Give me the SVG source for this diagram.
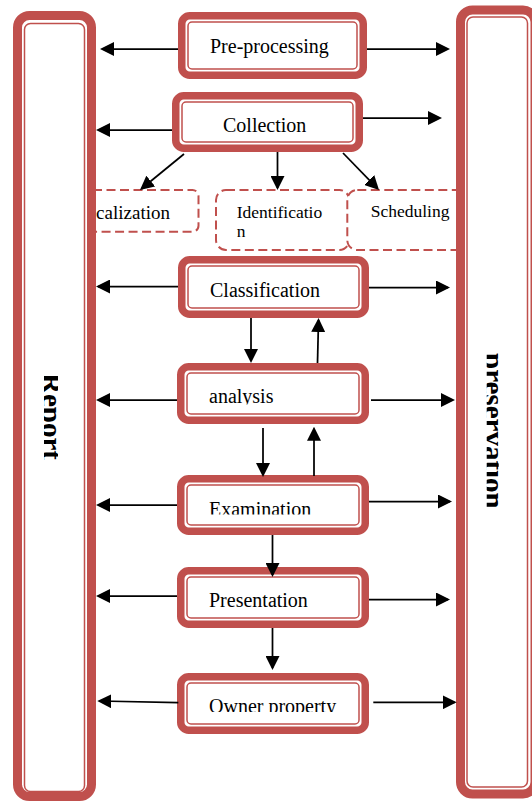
<svg xmlns="http://www.w3.org/2000/svg" width="532" height="802" viewBox="0 0 532 802">
<style>
.thick{fill:#fff;stroke:#C0504D;stroke-width:7.5}
.thin{fill:none;stroke:#C0504D;stroke-width:1.5}
.sthick{fill:#fff;stroke:#C0504D;stroke-width:9}
.dash{fill:#fff;stroke:#C0504D;stroke-width:2;stroke-dasharray:9 4.5}
.lbl{font-family:"Liberation Serif","Times New Roman",serif;font-size:20px;fill:#000}
.sm{font-family:"Liberation Serif","Times New Roman",serif;font-size:17.5px;fill:#000}
.side{font-family:"Liberation Serif","Times New Roman",serif;font-size:29px;font-weight:bold;fill:#000}
.con{stroke:#000;stroke-width:1.75;fill:none;marker-end:url(#ah)}
</style>
<defs>
<marker id="ah" markerUnits="userSpaceOnUse" markerWidth="14" markerHeight="14" refX="12" refY="7" orient="auto">
<path d="M0,0 L14,7 L0,14 z" fill="#000"/>
</marker>
<clipPath id="cpReport"><rect x="44" y="360" width="14" height="120"/></clipPath>
<clipPath id="cpPres"><rect x="486.7" y="340" width="12" height="190"/></clipPath>
<clipPath id="cpAna"><rect x="187" y="373" width="172" height="31.5"/></clipPath>
<clipPath id="cpExam"><rect x="187" y="485" width="172" height="29.5"/></clipPath>
<clipPath id="cpOwner"><rect x="187" y="683" width="172" height="29"/></clipPath>
</defs>

<g id="localization">
<rect class="dash" x="60" y="190" width="138.5" height="41.7" rx="6"/>
<text class="lbl" x="75" y="219" style="font-size:19px">Localization</text>
</g>
<g id="identification">
<rect class="dash" x="216" y="190" width="133.3" height="60" rx="10"/>
<text class="sm" x="236.7" y="218.3">Identificatio</text>
<text class="sm" x="236.7" y="236.7">n</text>
</g>
<g id="scheduling">
<rect class="dash" x="347.3" y="190" width="130" height="60" rx="10"/>
<text class="sm" x="370.7" y="216.7">Scheduling</text>
</g>

<g id="report">
<rect class="sthick" x="17.5" y="15.5" width="74" height="781" rx="12"/>
<rect class="thin" x="24.5" y="23.5" width="60" height="768" rx="6"/>
<g clip-path="url(#cpReport)">
<text class="side" transform="translate(42,373) rotate(90)">Report</text>
</g>
</g>
<g id="preservation">
<rect class="sthick" x="460.5" y="10" width="74.5" height="784" rx="12"/>
<rect class="thin" x="467" y="17" width="60.5" height="770" rx="6"/>
<g clip-path="url(#cpPres)">
<text class="side" transform="translate(484,353) rotate(90)">preservation</text>
</g>
</g>

<g id="preprocessing">
<rect class="thick" x="181.75" y="15.75" width="181.5" height="59.5" rx="8"/>
<rect class="thin" x="188" y="22" width="169" height="47" rx="4"/>
<text class="lbl" x="210" y="53">Pre-processing</text>
</g>
<g id="collection">
<rect class="thick" x="175.75" y="95.75" width="183.5" height="52.5" rx="8"/>
<rect class="thin" x="182" y="102" width="171" height="40" rx="4"/>
<text class="lbl" x="223" y="132">Collection</text>
</g>
<g id="classification">
<rect class="thick" x="181.75" y="259.75" width="183.5" height="54.5" rx="8"/>
<rect class="thin" x="188" y="266" width="171" height="42" rx="4"/>
<text class="lbl" x="210" y="297">Classification</text>
</g>
<g id="analysis">
<rect class="thick" x="180.75" y="366.75" width="184.5" height="53.5" rx="8"/>
<rect class="thin" x="187" y="373" width="172" height="41" rx="4"/>
<text class="lbl" x="209" y="403" clip-path="url(#cpAna)">analysis</text>
</g>
<g id="examination">
<rect class="thick" x="180.75" y="478.75" width="184.5" height="52.5" rx="8"/>
<rect class="thin" x="187" y="485" width="172" height="40" rx="4"/>
<text class="lbl" x="209" y="515.5" clip-path="url(#cpExam)">Examination</text>
</g>
<g id="presentation">
<rect class="thick" x="180.75" y="570.75" width="184.5" height="53.5" rx="8"/>
<rect class="thin" x="187" y="577" width="172" height="41" rx="4"/>
<text class="lbl" x="209" y="607">Presentation</text>
</g>
<g id="ownerproperty">
<rect class="thick" x="180.75" y="676.75" width="184.5" height="53.5" rx="8"/>
<rect class="thin" x="187" y="683" width="172" height="41" rx="4"/>
<text class="lbl" x="209" y="713" clip-path="url(#cpOwner)">Owner property</text>
</g>

<g id="connectors">
<line class="con" x1="178" y1="49" x2="102" y2="49"/>
<line class="con" x1="367" y1="49" x2="448" y2="49"/>
<line class="con" x1="172" y1="130" x2="98" y2="130"/>
<line class="con" x1="363" y1="118" x2="440" y2="118"/>
<line class="con" x1="184" y1="154" x2="141.5" y2="188.7"/>
<line class="con" x1="277.5" y1="152" x2="277.5" y2="188"/>
<line class="con" x1="343" y1="153" x2="377.6" y2="188.6"/>
<line class="con" x1="178" y1="286.5" x2="98" y2="286.5"/>
<line class="con" x1="369" y1="287.5" x2="448" y2="287.5"/>
<line class="con" x1="251" y1="318" x2="251" y2="361"/>
<line class="con" x1="317.5" y1="363" x2="318.5" y2="320"/>
<line class="con" x1="177" y1="400" x2="98" y2="400"/>
<line class="con" x1="371" y1="400" x2="453" y2="400"/>
<line class="con" x1="263" y1="428" x2="263" y2="475"/>
<line class="con" x1="314" y1="476" x2="314" y2="428.7"/>
<line class="con" x1="177" y1="505" x2="98" y2="505"/>
<line class="con" x1="369" y1="501.5" x2="450" y2="501.5"/>
<line class="con" x1="272.5" y1="535" x2="272.5" y2="575"/>
<line class="con" x1="177" y1="596" x2="98" y2="596"/>
<line class="con" x1="369" y1="599.5" x2="448" y2="599.5"/>
<line class="con" x1="272.5" y1="628" x2="272.5" y2="668"/>
<line class="con" x1="178.3" y1="702.7" x2="99.3" y2="701"/>
<line class="con" x1="373.3" y1="702.3" x2="454.7" y2="702.3"/>
</g>
</svg>
